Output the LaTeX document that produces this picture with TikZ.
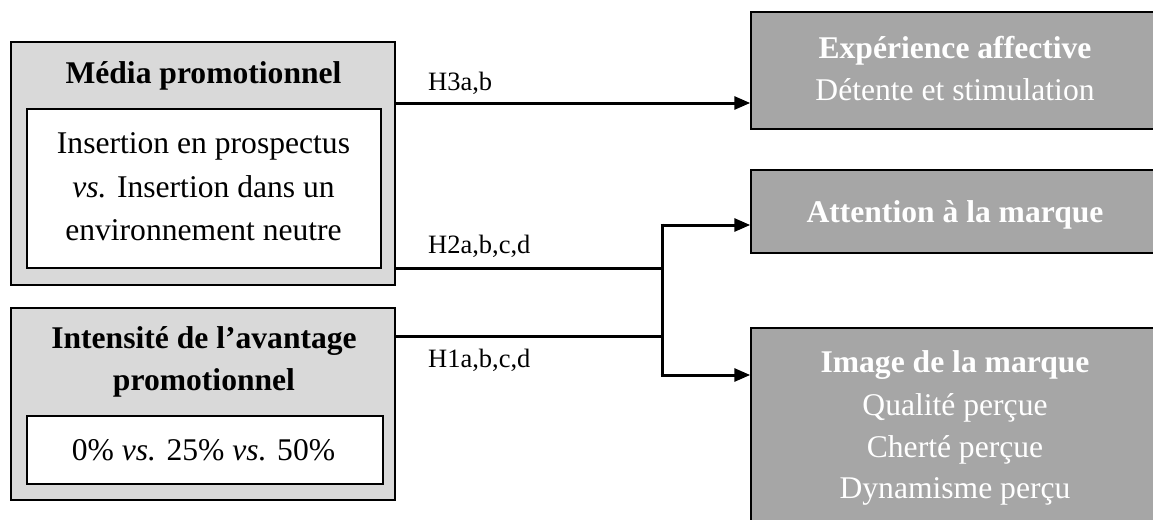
\documentclass[tikz,border=0pt]{standalone}
\usepackage{fontspec}
\setmainfont{Liberation Serif}
\usetikzlibrary{arrows.meta}
\definecolor{lightbox}{HTML}{D9D9D9}
\definecolor{darkbox}{HTML}{A6A6A6}
\tikzset{
  outerbox/.style={draw=black, line width=1.2pt, fill=lightbox, inner sep=0pt},
  innerbox/.style={draw=black, line width=1.2pt, fill=white, inner sep=0pt},
  outbox/.style={draw=black, line width=1.5pt, fill=darkbox, inner sep=0pt},
  txt/.style={font=\fontsize{31.6}{38}\selectfont, anchor=base, inner sep=0pt},
  wtxt/.style={txt, text=white},
  hlabel/.style={font=\fontsize{26.5}{30}\selectfont, anchor=base west, inner sep=0pt},
  conn/.style={line width=3pt},
  arr/.style={line width=3pt, -{Triangle[length=16pt,width=13pt]}}
}
\begin{document}
\begin{tikzpicture}[x=1pt,y=-1pt]
\useasboundingbox (0,0) rectangle (1153,519);
% left boxes
\node[outerbox, minimum width=384pt, minimum height=243pt] (media) at (203,163.5) {};
\node[txt] (mediat) at (203.5,83) {\textbf{Média promotionnel}};
\node[innerbox, minimum width=354pt, minimum height=159pt] (mediai) at (204,188.5) {};
\node[txt] (m1) at (203.5,153) {Insertion en prospectus};
\node[txt] (m2) at (203.5,197) {\textit{vs.} Insertion dans un};
\node[txt] (m3) at (203.5,240) {environnement neutre};
\node[outerbox, minimum width=384pt, minimum height=192pt] (intens) at (203,404) {};
\node[txt] (it1) at (204,348) {\textbf{Intensité de l’avantage}};
\node[txt] (it2) at (204,390) {\textbf{promotionnel}};
\node[innerbox, minimum width=356pt, minimum height=68pt] (intensi) at (205,450) {};
\node[txt] (ii) at (203.5,460) {0\% \textit{vs.} 25\% \textit{vs.} 50\%};
% right boxes
\node[outbox, minimum width=408pt, minimum height=117pt] (exp) at (955,70.5) {};
\node[wtxt] (e1) at (955,59) {\textbf{Expérience affective}};
\node[wtxt] (e2) at (955,100) {Détente et stimulation};
\node[outbox, minimum width=408pt, minimum height=83pt] (att) at (955,211.5) {};
\node[wtxt] (a1) at (955,222) {\textbf{Attention à la marque}};
\node[outbox, minimum width=408pt, minimum height=202pt] (img) at (955,429) {};
\node[wtxt] (g1) at (955,372) {\textbf{Image de la marque}};
\node[wtxt] (g2) at (955,415) {Qualité perçue};
\node[wtxt] (g3) at (955,457) {Cherté perçue};
\node[wtxt] (g4) at (955,498) {Dynamisme perçu};
% connectors
\coordinate (h3s) at (media.east |- 0,103);
\coordinate (h3e) at (exp.west |- 0,103);
\coordinate (h2s) at (media.east |- 0,268);
\coordinate (h1s) at (intens.east |- 0,336);
\coordinate (jtop) at (662,225);
\coordinate (jbot) at (662,375);
\coordinate (attin) at (att.west |- jtop);
\coordinate (imgin) at (img.west |- jbot);
\draw[arr] (h3s) -- (h3e);
\draw[conn] (h2s) -- (h2s -| jtop);
\draw[conn] (h1s) -- (h1s -| jtop);
\draw[conn] ([yshift=1.5pt]jtop) -- ([yshift=-1.5pt]jbot);
\draw[arr] ([xshift=-1.5pt]jtop) -- (attin);
\draw[arr] ([xshift=-1.5pt]jbot) -- (imgin);
% labels
\node[hlabel] (l3) at (428,90) {H3a,b};
\node[hlabel] (l2) at (428,253) {H2a,b,c,d};
\node[hlabel] (l1) at (428,367) {H1a,b,c,d};
\end{tikzpicture}
\end{document}
